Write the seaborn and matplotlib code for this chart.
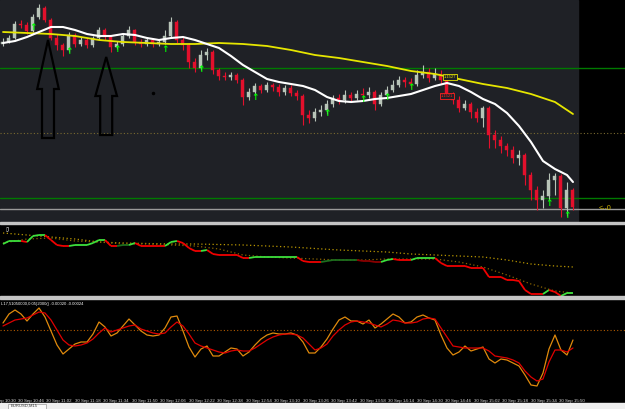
import matplotlib
matplotlib.use("Agg")
import numpy as np
import pandas as pd
import seaborn as sns
from matplotlib import pyplot as plt
from matplotlib.patches import Polygon, Rectangle
from matplotlib.collections import LineCollection
from matplotlib.transforms import blended_transform_factory

sns.set_theme(style="dark")
plt.rcParams['font.family'] = ['Liberation Sans', 'DejaVu Sans']

# EURUSD M15 window, 30 Sep. Levels are read off the screen,
# measured downwards from the top of each panel (axes are inverted).
opens = [44, 42, 38, 24, 25, 31, 17, 8, 20, 38,
         45, 50, 35, 44, 40, 45, 38, 30, 37, 47,
         44, 36, 30, 42, 44, 40, 44, 42, 36, 22,
         40, 45, 62, 68, 55, 52, 70, 76, 77, 75,
         80, 97, 92, 86, 90, 85, 87, 92, 88, 93,
         96, 115, 118, 112, 110, 104, 98, 100, 95, 98,
         94, 95, 92, 104, 95, 90, 85, 80, 82, 84,
         75, 72, 78, 74, 80, 95, 100, 108, 104, 112,
         118, 108, 135, 140, 146, 150, 158, 155, 175, 190,
         200, 196, 180, 176, 208, 190]
closes = [42, 38, 24, 25, 31, 17, 8, 20, 38, 45,
          50, 35, 44, 40, 45, 38, 30, 37, 47, 44,
          36, 30, 42, 44, 40, 44, 42, 36, 22, 40,
          45, 62, 68, 55, 52, 70, 76, 77, 75, 80,
          97, 92, 86, 90, 85, 87, 92, 88, 93, 96,
          115, 118, 112, 110, 104, 98, 100, 95, 98, 94,
          95, 92, 104, 95, 90, 85, 80, 82, 84, 75,
          72, 78, 74, 80, 95, 100, 108, 104, 112, 118,
          108, 135, 140, 146, 150, 158, 155, 175, 190, 200,
          196, 180, 176, 208, 190, 207]
highs = [38, 35, 21, 20, 22, 14, 4, 6, 18, 34,
         43, 32, 33, 37, 38, 36, 27, 28, 35, 41,
         34, 26, 29, 39, 37, 38, 39, 30, 17, 20,
         37, 43, 58, 50, 48, 50, 68, 72, 72, 73,
         78, 88, 83, 84, 82, 83, 84, 85, 85, 90,
         94, 110, 108, 105, 100, 95, 94, 90, 92, 90,
         88, 87, 90, 92, 86, 80, 76, 77, 78, 70,
         65, 68, 68, 70, 78, 92, 96, 100, 102, 108,
         106, 106, 130, 136, 143, 146, 150, 153, 172, 186,
         190, 173, 173, 174, 182, 188]
lows = [46, 43, 39, 28, 34, 32, 19, 22, 40, 50,
        56, 52, 47, 46, 48, 47, 40, 40, 52, 49,
        46, 38, 45, 47, 46, 47, 46, 44, 38, 43,
        50, 68, 72, 70, 60, 74, 80, 80, 80, 83,
        105, 100, 95, 93, 92, 91, 96, 95, 96, 100,
        125, 123, 121, 116, 114, 107, 104, 103, 101, 100,
        99, 98, 110, 106, 97, 92, 87, 87, 88, 86,
        78, 82, 80, 84, 98, 104, 112, 110, 118, 122,
        127, 148, 148, 153, 156, 163, 165, 185, 200, 210,
        208, 200, 195, 217, 216, 210]

# moving averages (white every 2 bars, yellow every 4 bars)
ma_fast_bars = list(range(0, 96, 2)) + [95]
ma_fast = [43, 41, 37, 32, 27, 27, 30, 34, 36, 36,
           34, 35, 38, 40, 38, 37, 40, 44, 48, 56,
           65, 72, 79, 82, 84, 86, 90, 97, 101, 102,
           101, 99, 98, 96, 94, 90, 86, 83, 86, 92,
           99, 104, 113, 126, 142, 161, 169, 175, 182]
ma_slow_bars = list(range(0, 96, 4)) + [95]
ma_slow = [32, 33, 34, 36, 40, 42, 43, 44, 44, 43,
           44, 46, 50, 55, 58, 62, 66, 71, 74, 79,
           84, 88, 94, 102, 114]

levels_green = [68, 198]
level_bid = 209
level_dotted = 133

# buy signals (bar, level)
signal_bars = [5, 11, 19, 27, 33, 42, 54, 60, 64, 68, 91, 94]
signal_levels = [28, 52, 49, 50, 70, 98, 114, 100, 97, 88, 204, 216]

# hand-drawn arrows: bar, tip level, tail level
hand_arrows = [(7.5, 40, 138), (17.2, 57, 135)]

# second window: trend line and its two dotted averages
trend_line = [244, 241, 241, 241, 242, 236, 235, 235, 240, 245,
              246, 246, 245, 245, 245, 243, 240, 240, 246, 246,
              245, 245, 243, 246, 246, 246, 246, 246, 242, 241,
              243, 248, 251, 251, 250, 254, 255, 255, 255, 255,
              258, 258, 257, 257, 257, 257, 257, 257, 257, 257,
              261, 262, 262, 262, 261, 260, 260, 260, 260, 260,
              261, 261, 262, 262, 260, 259, 260, 260, 260, 258,
              258, 258, 258, 263, 266, 266, 266, 266, 268, 268,
              268, 277, 277, 277, 280, 280, 281, 290, 294, 294,
              294, 290, 292, 296, 293, 293]
trend_state = list("G" "ggg" "r" "ggg" "rrrr" "gggggg" "rr" "GG" "g" "rrrrr"
                   "gg" "rrrr" "g" "rrrrrrr" "gggggggg" "rrrr" "GGGGGG" "RRRR"
                   "gg" "rrr" "gggg" + "r" * 18 + "g" "rr" "gg")
dot_bars = list(range(0, 96, 4)) + [95]
dot_slow = [233, 235, 237, 239, 242, 243, 243.5, 244, 244, 244.5,
            245, 246, 247, 248.5, 250, 251, 252, 254, 255, 256,
            257, 260, 264, 266, 267]
dot_fast = [243, 239, 238, 241, 242, 244, 244, 245, 246, 249,
            255, 257, 258, 259, 260, 260, 259, 259, 259, 262,
            267, 275, 284, 291, 293]

# third window: oscillator main and signal
osc_main = [323, 314, 310, 314, 321, 314, 308, 317, 331, 345,
            354, 349, 344, 342, 342, 334, 322, 327, 336, 333,
            326, 319, 325, 331, 335, 336, 335, 328, 317, 316,
            331, 347, 357, 349, 346, 356, 356, 352, 348, 349,
            356, 352, 345, 339, 335, 333, 334, 334, 333, 335,
            342, 353, 353, 347, 339, 329, 320, 317, 321, 321,
            324, 320, 328, 324, 319, 314, 317, 323, 322, 317,
            315, 318, 320, 335, 348, 355, 352, 346, 351, 349,
            347, 359, 363, 359, 360, 363, 366, 375, 385, 386,
            373, 349, 335, 350, 355, 340]
osc_signal = [326, 323, 320, 319, 318, 315, 312, 313, 320, 330,
              340, 345, 346, 345, 343, 339, 333, 328, 332, 330,
              328, 326, 325, 329, 331, 333, 334, 333, 327, 322,
              326, 334, 343, 346, 348, 350, 352, 353, 351, 350,
              351, 351, 348, 344, 340, 337, 335, 334, 334, 335,
              338, 344, 350, 348, 344, 336, 330, 325, 322, 321,
              322, 323, 325, 327, 324, 320, 321, 323, 323, 322,
              319, 318, 319, 328, 337, 346, 347, 348, 348, 348,
              348, 351, 356, 357, 358, 360, 363, 371, 377, 381,
              379, 362, 350, 350, 352, 348]
osc_zero = 330

tick_times = ["10:30", "10:46", "11:02", "11:18", "11:34", "11:50", "12:06",
              "12:22", "12:38", "12:54", "13:10", "13:26", "13:42", "13:58",
              "14:14", "14:30", "14:46", "15:02", "15:18", "15:34", "15:50"]

bars = np.arange(len(closes))
candles = pd.DataFrame({"bar": bars, "open": opens, "close": closes,
                        "high": highs, "low": lows})
candles["up"] = candles["close"] < candles["open"]

UP = "#b8c4b8"
DOWN = "#e3102c"
PANEL = "#1f2126"
XMAX = 103.67     # right edge of window incl. black price-scale strip
DATA_END = 95.83  # last bar edge

W, H = 625, 409
fig = plt.figure(figsize=(W / 100, H / 100), dpi=100, facecolor="black")


def add_axes(top, bottom):
    ax = fig.add_axes([0, 1 - bottom / H, 1, (bottom - top) / H])
    ax.set_facecolor("black")
    for s in ax.spines.values():
        s.set_visible(False)
    ax.set_xticks([])
    ax.set_yticks([])
    ax.set_xlim(-0.5, XMAX)
    ax.set_ylim(bottom, top)
    ax.grid(False)
    return ax


ax1 = add_axes(0, 222)
ax2 = add_axes(225, 296)
ax3 = add_axes(300, 397)

# ---- main window
ax1.axvspan(-0.5, DATA_END, color=PANEL, zorder=0)
for lv in levels_green:
    ax1.axhline(lv, color="#007a00", lw=1.0, zorder=1)
ax1.axhline(level_bid, color="#9a9a9a", lw=1.0, zorder=1)
ax1.axhline(level_dotted, color="#7a6a30", lw=0.8, ls=(0, (1, 2)), zorder=1)

cols = np.where(candles["up"], UP, DOWN)
ax1.vlines(candles["bar"], candles["high"], candles["low"], colors=cols, lw=0.8, zorder=3)
ax1.bar(candles["bar"], candles["close"] - candles["open"], bottom=candles["open"],
        width=0.5, color=cols, edgecolor=cols, linewidth=0.3, zorder=4)

sns.lineplot(x=ma_slow_bars, y=ma_slow, ax=ax1, color="#e6e600", lw=1.3, zorder=5)
sns.lineplot(x=ma_fast_bars, y=ma_fast, ax=ax1, color="white", lw=1.5, zorder=6)

for b, lv in zip(signal_bars, signal_levels):
    ax1.text(b, lv, "↑", color="#00ff00", fontsize=6.5, fontweight="bold",
             ha="center", va="center", family="DejaVu Sans", zorder=7)

for b, tip, tail in hand_arrows:
    neck = tip + (tail - tip) * 0.5
    pts = [(b, tip), (b + 1.8, neck), (b + 1.0, neck), (b + 1.0, tail),
           (b - 1.0, tail), (b - 1.0, neck), (b - 1.8, neck)]
    ax1.add_patch(Polygon(pts, closed=True, fill=False, edgecolor="black", lw=1.6, zorder=8))

ax1.plot([25], [93], marker="o", ms=1.5, color="black", zorder=8)
ax1.text(73.4, 77, "1.1527", color="#e6e600", fontsize=3, va="center", ha="left", zorder=9,
         bbox=dict(boxstyle="square,pad=0.2", fc=PANEL, ec="#e6e600", lw=0.6))
ax1.text(73.0, 96, "1.1521", color="#ff2020", fontsize=3, va="center", ha="left", zorder=9,
         bbox=dict(boxstyle="square,pad=0.2", fc=PANEL, ec="#ff2020", lw=0.6))
ax1.text(99.2, level_bid, "<--0", color="#d4b800", fontsize=5, va="center", ha="left",
         clip_on=False)
ax1.set_xlabel("")
ax1.set_ylabel("")

# ---- second window
state_colors = {"g": "#3ce03c", "G": "#1d6e1d", "r": "#f00000", "R": "#8a0000"}
segs = [[(i - 1, trend_line[i - 1]), (i, trend_line[i])] for i in range(1, len(trend_line))]
seg_cols = [state_colors[s] for s in trend_state[1:]]
ax2.add_collection(LineCollection(segs, colors=seg_cols, linewidths=1.3, zorder=4))
sns.lineplot(x=dot_bars, y=dot_slow, ax=ax2, color="#b89600", lw=0.9, ls=(0, (1, 2)), zorder=3)
sns.lineplot(x=dot_bars, y=dot_fast, ax=ax2, color="#8a6400", lw=0.9, ls=(0, (1, 2)), zorder=3)
ax2.text(0.5, 229, "▯I", color="white", fontsize=3.5, va="center", ha="left", family="DejaVu Sans")
ax2.set_xlabel("")
ax2.set_ylabel("")

# ---- third window
ax3.axhline(osc_zero, color="#b05a00", lw=0.8, ls=(0, (1, 2)), zorder=1)
sns.lineplot(x=bars, y=osc_main, ax=ax3, color="#e08a0c", lw=0.9, zorder=3)
sns.lineplot(x=bars, y=osc_signal, ax=ax3, color="#e00000", lw=0.9, zorder=4)
ax3.text(-0.4, 304, "L17,51050000,0.05)2000() -0.00020 -0.00024", color="white",
         fontsize=3, va="center", ha="left")
ax3.set_xlabel("")
ax3.set_ylabel("")

# time labels: 4.75 bars per 16 minutes, 10:46 sits at bar 2.5
trans = blended_transform_factory(ax3.transData, ax3.transAxes)
for k, t in enumerate(tick_times):
    pos = 2.5 + (k - 1) * 4.75
    ax3.text(pos, -0.02, "30 Sep " + t, transform=trans, color="#d8d8d8",
             fontsize=3.2, ha="left", va="top", clip_on=False)

# window dividers and bottom tab bar
for top in (222, 296.5):
    fig.patches.append(Rectangle((0, 1 - (top + 2.2) / H), 1, 2.2 / H,
                                 transform=fig.transFigure, color="#c4c4c4", zorder=10))
fig.patches.append(Rectangle((0, 0), 1, 6 / H, transform=fig.transFigure,
                             color="#efefef", zorder=10))
fig.patches.append(Rectangle((8 / W, 0), 38 / W, 5.5 / H, transform=fig.transFigure,
                             fc="#fafafa", ec="#9a9a9a", lw=0.5, zorder=11))
fig.text(11 / W, 1.5 / H, "EURUSD,M15", fontsize=3, color="#333333", va="bottom", zorder=12)

fig.savefig("out.png", dpi=100, facecolor="black")
